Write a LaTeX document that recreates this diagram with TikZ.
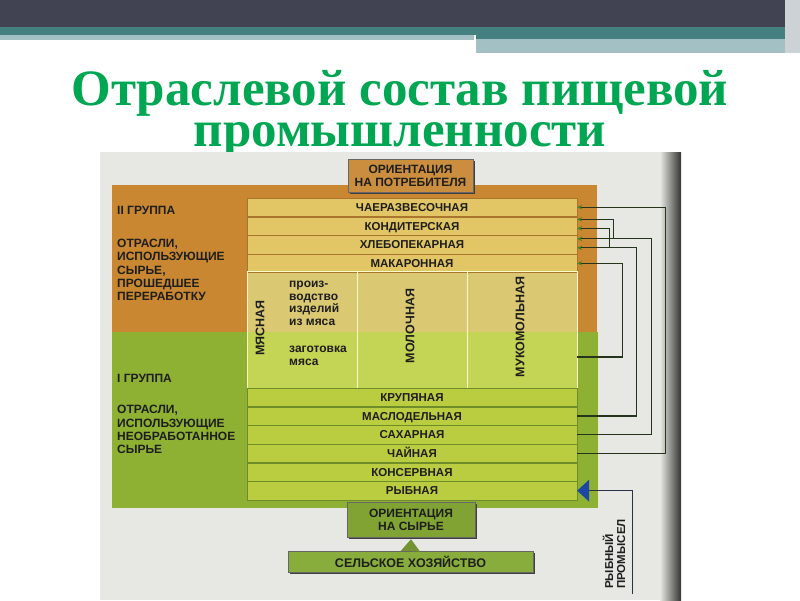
\documentclass[tikz,border=0pt]{standalone}
\usepackage{fontspec}
\setmainfont{Liberation Serif}
\setsansfont{Liberation Sans}
\usetikzlibrary{arrows.meta}
\usetikzlibrary{positioning,shadows,calc}
\definecolor{topDark}{RGB}{65,66,82}
\definecolor{topTeal}{RGB}{69,128,128}
\definecolor{topLight}{RGB}{163,192,196}
\definecolor{edgeGray}{RGB}{205,210,214}
\definecolor{titleGreen}{RGB}{0,166,81}
\definecolor{scanGray}{RGB}{231,231,227}
\definecolor{orangeII}{RGB}{201,135,50}
\definecolor{greenI}{RGB}{142,177,52}
\definecolor{rowU}{RGB}{226,197,100}
\definecolor{rowL}{RGB}{186,204,64}
\definecolor{rowEdgeU}{RGB}{170,118,45}
\definecolor{rowEdgeL}{RGB}{110,140,40}
\definecolor{panelU}{RGB}{218,200,114}
\definecolor{panelL}{RGB}{196,212,84}
\definecolor{inkDark}{RGB}{30,30,28}
\definecolor{orientU}{RGB}{203,142,62}
\definecolor{orientL}{RGB}{128,163,52}
\definecolor{farmFill}{RGB}{136,173,60}
\definecolor{feedDark}{RGB}{38,52,30}
\definecolor{tipGreen}{RGB}{60,130,40}
\definecolor{fishBlue}{RGB}{30,70,165}
\definecolor{fishDark}{RGB}{40,50,72}
\tikzset{rowU/.style={rectangle,draw=rowEdgeU,fill=rowU,minimum width=330pt,minimum height=18.3pt,
		                 inner sep=0pt,text height=8.3pt,text depth=0pt,text=inkDark,
		                 font=\sffamily\bfseries\fontsize{11.5}{12}\selectfont},
		rowL/.style={rowU,draw=rowEdgeL,fill=rowL},
		colbox/.style={rectangle,draw=white!80!yellow,line width=0.8pt,minimum width=110pt,minimum height=116.8pt,inner sep=0pt},
		colLabel/.style={rotate=90,inner sep=0pt,text=inkDark,font=\sffamily\bfseries\fontsize{12.5}{13}\selectfont},
		smallText/.style={anchor=west,align=left,inner sep=0pt,text=inkDark,font=\sffamily\bfseries\fontsize{12}{12.5}\selectfont},
		groupText/.style={anchor=west,align=left,inner sep=0pt,text=inkDark,font=\sffamily\bfseries\fontsize{12}{13.2}\selectfont},
		orientBox/.style={rectangle,draw=black!60,inner sep=0pt,text=inkDark,
		                 font=\sffamily\bfseries\fontsize{12}{13}\selectfont,
		                 drop shadow={shadow xshift=1.5pt,shadow yshift=-1.5pt,fill=black!75,opacity=1}},
		farmBox/.style={orientBox,fill=farmFill,minimum width=245pt,minimum height=21pt,font=\sffamily\bfseries\fontsize{12.5}{13}\selectfont},
		titleText/.style={inner sep=0pt,text=titleGreen,font=\rmfamily\bfseries\fontsize{51}{41}\selectfont},
		feed/.style={-{Stealth[length=5pt,width=4.5pt,color=tipGreen]},line width=1.3pt,draw=feedDark},
		fishLine/.style={-{Triangle[length=12pt,width=22pt,color=fishBlue]},line width=1pt,draw=fishDark},
		farmArrow/.style={-{Triangle[length=12pt,width=19pt,color=farmFill!85!black]},line width=1pt,draw=farmFill!85!black},
		every node/.style={align=center}}
\begin{document}
\begin{tikzpicture}[x=1pt,y=-1pt]
\useasboundingbox (0,0) rectangle (800,600);
% slide header
\fill[topDark] (0,0) rectangle (785,27);
\fill[topTeal] (0,27) rectangle (476,35);
\fill[topTeal] (476,27) rectangle (785,39);
\fill[topLight] (0,35) rectangle (474,40);
\fill[topLight] (476,39) rectangle (785,53);
\fill[edgeGray] (785,0) rectangle (800,53);
\node[titleText,anchor=north] (title) at (400,70) {Отраслевой состав пищевой\\промышленности};
% scanned page
\fill[scanGray] (100,152) rectangle (668,600);
\shade[left color=scanGray,right color=black!80] (660,152) rectangle (681,600);
\fill[orangeII] (112,185) rectangle (597,332);
\fill[greenI] (112,332) rectangle (598,508);
\fill[panelU] (247,271.2) rectangle (577,332);
\fill[panelL] (247,332) rectangle (577,388);
% groups
\node[groupText] (grII) at (117,210) {II ГРУППА};
\node[groupText] (grIIdesc) at (117,270) {ОТРАСЛИ,\\ИСПОЛЬЗУЮЩИЕ\\СЫРЬЕ,\\ПРОШЕДШЕЕ\\ПЕРЕРАБОТКУ};
\node[groupText] (grI) at (117,378) {I ГРУППА};
\node[groupText] (grIdesc) at (117,429.5) {ОТРАСЛИ,\\ИСПОЛЬЗУЮЩИЕ\\НЕОБРАБОТАННОЕ\\СЫРЬЕ};
% branches
\node[rowU] (chaer) at (412,207.15) {ЧАЕРАЗВЕСОЧНАЯ};
\node[rowU,below=0pt of chaer] (kond) {КОНДИТЕРСКАЯ};
\node[rowU,below=0pt of kond] (hleb) {ХЛЕБОПЕКАРНАЯ};
\node[rowU,below=0pt of hleb] (makar) {МАКАРОННАЯ};
\node[colbox] (myas) at (302,329.6) {};
\node[colbox] (moloch) at (412,329.6) {};
\node[colbox] (mukom) at (522,329.6) {};
\node[colLabel] (myasT) at (260,328) {МЯСНАЯ};
\node[colLabel] (molochT) at (410,326) {МОЛОЧНАЯ};
\node[colLabel] (mukomT) at (520,327) {МУКОМОЛЬНАЯ};
\node[smallText] (izdel) at (289,303.5) {произ-\\водство\\изделий\\из мяса};
\node[smallText] (zagot) at (289,356) {заготовка\\мяса};
\node[rowL] (krup) at (412,397.15) {КРУПЯНАЯ};
\node[rowL,below=0pt of krup] (masl) {МАСЛОДЕЛЬНАЯ};
\node[rowL,below=0pt of masl] (sah) {САХАРНАЯ};
\node[rowL,below=0pt of sah] (chaj) {ЧАЙНАЯ};
\node[rowL,below=0pt of chaj] (kons) {КОНСЕРВНАЯ};
\node[rowL,below=0pt of kons] (ryb) {РЫБНАЯ};
% orientation
\node[orientBox,fill=orientU,minimum width=125pt,minimum height=33pt] (orCons) at (410.5,175.5) {ОРИЕНТАЦИЯ\\НА ПОТРЕБИТЕЛЯ};
\node[orientBox,fill=orientL,minimum width=128pt,minimum height=35pt] (orRaw) at (411,519.5) {ОРИЕНТАЦИЯ\\НА СЫРЬЕ};
\node[farmBox] (farm) at (410.5,561.5) {СЕЛЬСКОЕ ХОЗЯЙСТВО};
\draw[farmArrow] (farm.north) -- ([yshift=-2pt]orRaw.south);
% links between branches
\draw[feed] (chaj.east) -- ++(88,0) |- (chaer.east);
\draw[feed] (sah.east) -- ++(74,0) |- ([yshift=5.75pt]hleb.east);
\draw[feed] ([xshift=36pt,yshift=5.75pt]hleb.east) |- ([yshift=6.5pt]kond.east);
\draw[feed] (masl.east) -- ++(59,0) |- ([yshift=-3.25pt]hleb.east);
\draw[feed] ([xshift=32pt,yshift=-3.25pt]hleb.east) |- ([yshift=-2.5pt]kond.east);
\draw[feed] ([yshift=-27.4pt]mukom.east) -- ++(45,0) |- (makar.east);
% fishing
\node[colLabel,align=left,font=\sffamily\bfseries\fontsize{11.5}{12}\selectfont] (promysel) at (614,554) {РЫБНЫЙ\\ПРОМЫСЕЛ};
\coordinate (fishEnd) at (632,594);
\draw[fishLine] (fishEnd) |- (ryb.east);
\end{tikzpicture}
\end{document}
